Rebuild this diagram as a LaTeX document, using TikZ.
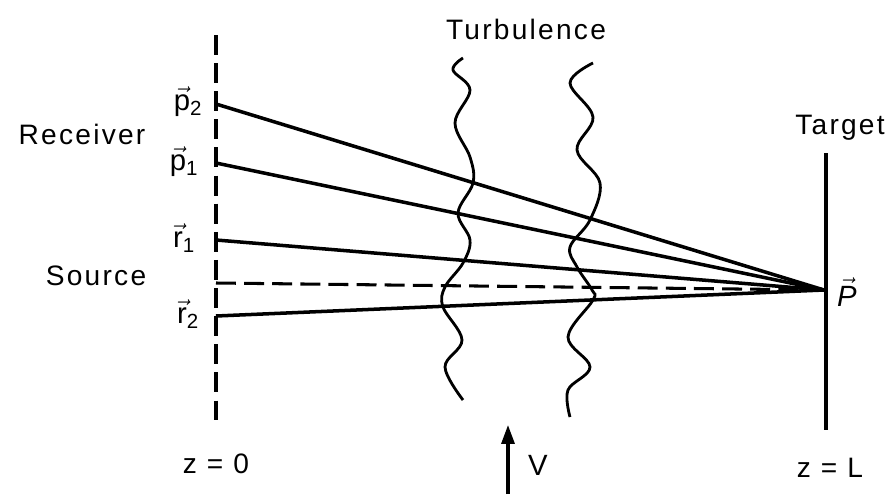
\documentclass[tikz,border=0pt]{standalone}
\usepackage{fontspec}
\setmainfont{Liberation Sans}
\setsansfont{Liberation Sans}
\newfontfamily\lab[LetterSpace=8]{Liberation Sans}
\usetikzlibrary{arrows.meta}
\begin{document}
\begin{tikzpicture}[x=0.03cm,y=-0.03cm,
  ray/.style={line width=3pt},
  dline/.style={line width=2.6pt,dash pattern=on 17pt off 7pt},
  wave/.style={line width=2.4pt,smooth,tension=0.6},
  txt/.style={font=\fontsize{24}{28}\selectfont\lab,inner sep=0pt},
  vlab/.style={font=\fontsize{25}{28}\selectfont,inner sep=0pt}]
\useasboundingbox (0,0) rectangle (888,494);
% left plane
\coordinate (top) at (216,35);
\coordinate (bot) at (216,422);
\draw[dline] (top) -- (bot);
\coordinate (p2) at (216,104);
\coordinate (p1) at (216,163);
\coordinate (r1) at (216,240);
\coordinate (s) at (216,283);
\coordinate (r2) at (216,316);
\coordinate (P) at (824,290);
% target
\coordinate (tt) at (826,153);
\coordinate (tb) at (826,430);
\draw[ray] (tt) -- (tb);
% rays
\draw[ray] (p2) -- (P);
\draw[ray] (p1) -- (P);
\draw[ray] (r1) -- (P);
\draw[ray] (r2) -- (P);
\draw[dline] (s) -- (P);
% turbulence
\draw[wave] plot coordinates {(463,58) (453,70) (470,90) (455,123) (470,157) (473,183) (458,213) (470,240) (463,263) (445,287) (443,307) (462,340) (445,367) (463,400)};
\draw[wave] plot coordinates {(593,63) (570,83) (593,117) (577,150) (600,183) (590,220) (570,247) (577,267) (592,290) (593,300) (568,337) (590,367) (568,390) (570,417)};
% wind arrow
\coordinate (vb) at (508,494);
\coordinate (vt) at (508,425);
\draw[line width=2.6pt,-{Triangle[length=16pt,width=11pt]}] (vb) -- (vt);
% labels
\node[txt] (turb) at (526,29) {Turbulence};
\node[txt] (rec) at (82,134) {Receiver};
\node[txt] (src) at (96,276) {Source};
\node[txt] (tgt) at (840,128) {Target};
\node[txt] (z0) at (216,464) {z = 0};
\node[txt] (zL) at (830,468) {z = L};
\node[vlab] (V) at (538,465) {\sffamily V};
\node[vlab] (lp2) at (188,102) {$\vec{\mathsf{p}}_{\mathsf{2}}$};
\node[vlab] (lp1) at (184,162) {$\vec{\mathsf{p}}_{\mathsf{1}}$};
\node[vlab] (lr1) at (184,238) {$\vec{\mathsf{r}}_{\mathsf{1}}$};
\node[vlab] (lr2) at (188,314) {$\vec{\mathsf{r}}_{\mathsf{2}}$};
\node[vlab] (lP) at (847,292) {$\vec{\textsf{\textit{P}}}$};
\end{tikzpicture}
\end{document}
